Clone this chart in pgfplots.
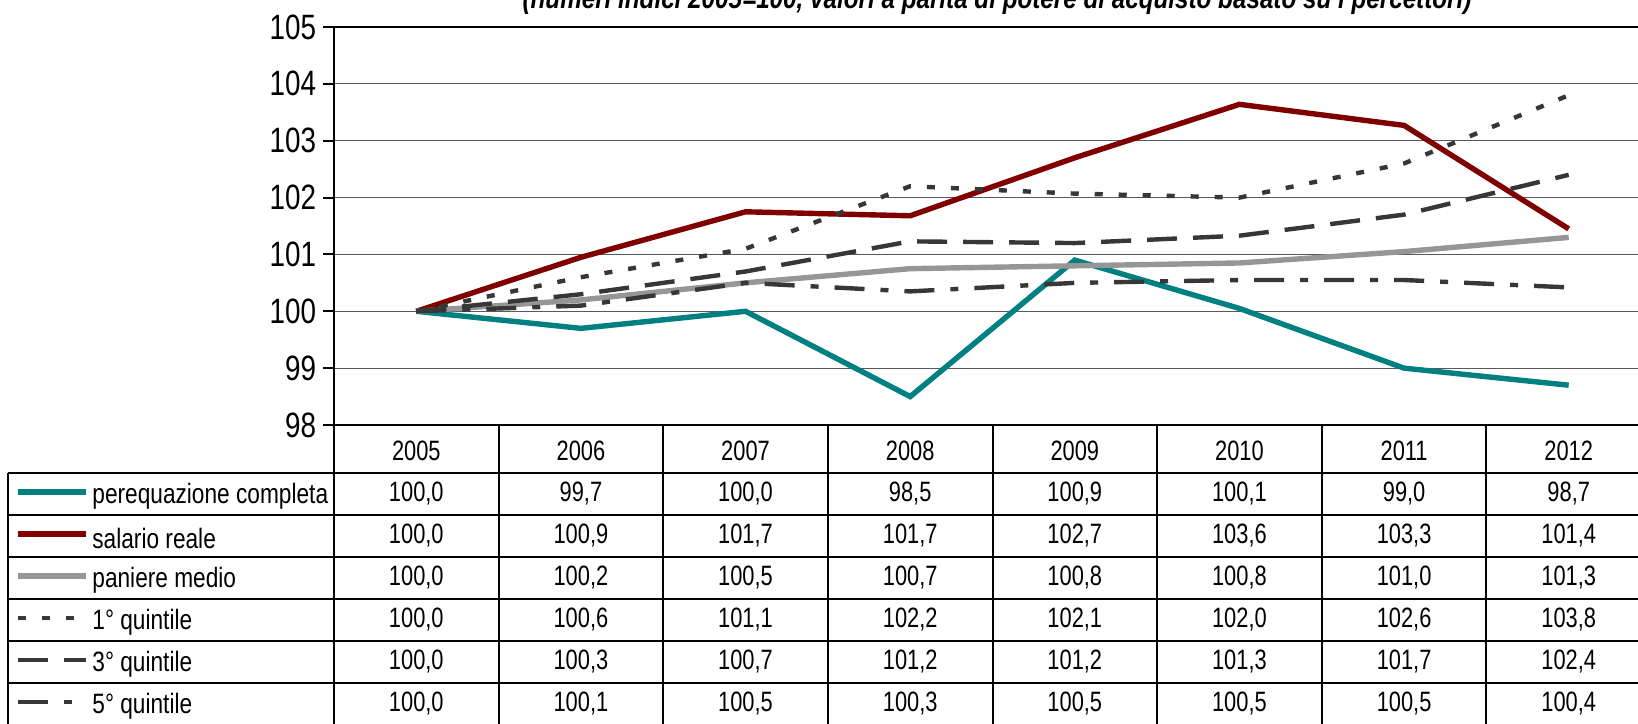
\documentclass[border=0pt]{standalone}
\usepackage{fontspec}
\setmainfont[FakeStretch=0.83]{Liberation Sans}
\newfontfamily\narrowA[FakeStretch=0.78]{Liberation Sans}
\newfontfamily\narrowB[FakeStretch=0.81]{Liberation Sans}
\newfontfamily\narrowC[FakeStretch=0.79]{Liberation Sans}
\usepackage{pgfplots}
\pgfplotsset{compat=1.18}
\definecolor{cteal}{RGB}{0,128,128}
\definecolor{cred}{RGB}{128,0,0}
\definecolor{cgray}{RGB}{150,150,150}
\definecolor{cdark}{RGB}{55,55,55}
\newcommand\vrow[9]{%
  \node at (416.3,#1) {#2};
  \node at (580.9,#1) {#3};
  \node at (745.5,#1) {#4};
  \node at (910.2,#1) {#5};
  \node at (1074.8,#1) {#6};
  \node at (1239.4,#1) {#7};
  \node at (1404.1,#1) {#8};
  \node at (1568.7,#1) {#9};}
\begin{document}
\begin{tikzpicture}
\begin{axis}[
  at={(167pt,-212.5pt)}, anchor=south west,
  width=658.5pt, height=199pt, scale only axis,
  xmin=2004.5, xmax=2012.5, ymin=98, ymax=105,
  xtick=\empty, ytick={98,99,...,105},
  ymajorgrids, grid style={black!65, line width=0.6pt},
  axis line style={black, line width=1pt},
  tick align=outside, major tick length=5.5pt,
  ytick style={black, line width=1pt},
  yticklabel style={font=\narrowC\fontsize{17.6}{19}\selectfont},
  /pgf/number format/assume math mode=true,
  clip=false,
]
\addplot[cteal, line width=2.7pt] coordinates {(2005,100.0) (2006,99.7) (2007,100.0) (2008,98.5) (2009,100.9) (2010,100.05) (2011,99.0) (2012,98.7)};
\addplot[cred, line width=2.7pt] coordinates {(2005,100.0) (2006,100.95) (2007,101.75) (2008,101.68) (2009,102.7) (2010,103.64) (2011,103.27) (2012,101.45)};
\addplot[cgray, line width=2.7pt] coordinates {(2005,100.0) (2006,100.2) (2007,100.5) (2008,100.75) (2009,100.8) (2010,100.85) (2011,101.05) (2012,101.3)};
\addplot[cdark, line width=2.2pt, dash pattern=on 4pt off 8pt] coordinates {(2005,100.0) (2006,100.6) (2007,101.1) (2008,102.2) (2009,102.07) (2010,102.0) (2011,102.6) (2012,103.8)};
\addplot[cdark, line width=2.2pt, dash pattern=on 15pt off 8pt] coordinates {(2005,100.0) (2006,100.3) (2007,100.7) (2008,101.23) (2009,101.2) (2010,101.33) (2011,101.7) (2012,102.4)};
\addplot[cdark, line width=2.2pt, dash pattern=on 15pt off 8pt on 4pt off 8pt] coordinates {(2005,100.0) (2006,100.1) (2007,100.5) (2008,100.35) (2009,100.5) (2010,100.55) (2011,100.55) (2012,100.42)};
\end{axis}
\begin{scope}[x=0.5pt,y=-0.5pt]
  \node[anchor=base, font=\fontsize{14.6}{16}\selectfont\bfseries\itshape] at (997,8) {(numeri indici 2005=100, valori a parità di potere di acquisto basato su i percettori)};
  % table grid
  \foreach \xx in {334,498.6,663.25,827.9,992.5,1157.1,1321.75,1486.4,1651}
    \draw[line width=1pt] (\xx,425) -- (\xx,740);
  \draw[line width=1pt] (8,473) -- (8,740);
  \draw[line width=1pt] (334,425) -- (1660,425);
  \foreach \yy in {473,515,557,599,641,683,725}
    \draw[line width=1pt] (8,\yy) -- (1660,\yy);
  % legend samples and labels
  \draw[cteal, line width=2.7pt] (18,492) -- (86,492);
  \draw[cred, line width=2.7pt] (18,534) -- (86,534);
  \draw[cgray, line width=2.7pt] (18,576) -- (86,576);
  \draw[cdark, line width=2.2pt, dash pattern=on 4pt off 8pt] (18,618) -- (86,618);
  \draw[cdark, line width=2.2pt, dash pattern=on 15pt off 8pt] (18,660) -- (86,660);
  \draw[cdark, line width=2.2pt, dash pattern=on 15pt off 8pt on 4pt off 8pt] (18,702) -- (86,702);
  \foreach \lab [count=\r from 0] in {perequazione completa,salario reale,paniere medio,1° quintile,3° quintile,5° quintile}
    \node[anchor=west, inner sep=0pt, font=\narrowB\fontsize{14}{16}\selectfont] at (92,496+42*\r) {\lab};
\end{scope}
\begin{scope}[x=0.5pt,y=-0.5pt, every node/.style={font=\narrowA\fontsize{14}{16}\selectfont}]
  \vrow{451}{2005}{2006}{2007}{2008}{2009}{2010}{2011}{2012}
  \vrow{494}{100,0}{99,7}{100,0}{98,5}{100,9}{100,1}{99,0}{98,7}
  \vrow{536}{100,0}{100,9}{101,7}{101,7}{102,7}{103,6}{103,3}{101,4}
  \vrow{578}{100,0}{100,2}{100,5}{100,7}{100,8}{100,8}{101,0}{101,3}
  \vrow{620}{100,0}{100,6}{101,1}{102,2}{102,1}{102,0}{102,6}{103,8}
  \vrow{662}{100,0}{100,3}{100,7}{101,2}{101,2}{101,3}{101,7}{102,4}
  \vrow{704}{100,0}{100,1}{100,5}{100,3}{100,5}{100,5}{100,5}{100,4}
\end{scope}
\pgfresetboundingbox
\path[use as bounding box] (0,0) rectangle (819pt,-361.5pt);
\end{tikzpicture}
\end{document}
